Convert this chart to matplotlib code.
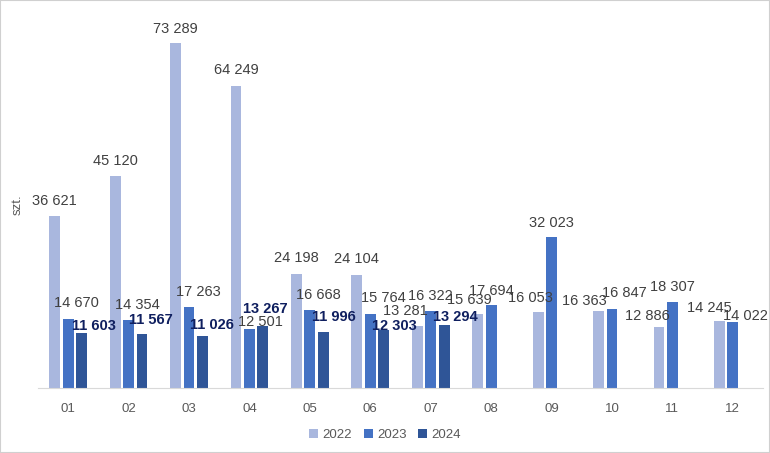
import numpy as np
import matplotlib
matplotlib.use("Agg")
import matplotlib.pyplot as plt
from matplotlib.patches import Rectangle

plt.rcParams["font.family"] = ["Liberation Sans", "DejaVu Sans"]

months = ["01", "02", "03", "04", "05", "06", "07", "08", "09", "10", "11", "12"]
y2022 = [36621, 45120, 73289, 64249, 24198, 24104, 13281, 15639, 16053, 16363, 12886, 14245]
y2023 = [14670, 14354, 17263, 12501, 16668, 15764, 16322, 17694, 32023, 16847, 18307, 14022]
y2024 = [11603, 11567, 11026, 13267, 11996, 12303, 13294, None, None, None, None, None]

# label nudges in pixels: (dx, height of label centre above bar top)
nudge_2022 = [(0, 15), (0, 15), (0, 14), (0, 16), (0, 16), (0, 16), (-12, 15),
              (-8, 14), (-8, 14), (-14, 10), (-12, 11), (-10, 13)]
nudge_2023 = [(8, 16), (9, 15), (9, 15), (11, 7), (8, 15), (13, 16), (0, 15),
              (0, 14), (0, 14), (12, 16), (0, 15), (13, 6)]
nudge_2024 = [(12, 7), (9, 14), (9, 11), (2, 17), (11, 15), (11, 4), (11, 8)]

c2022, c2023, c2024 = "#a9b7de", "#4472c4", "#2f5597"


def fmt(v):
    return f"{v:,}".replace(",", " ")


fig = plt.figure(figsize=(7.7, 4.53), dpi=100)
ax = fig.add_axes([38 / 770, 65 / 453, 725 / 770, 368 / 453])

x = np.arange(len(months))
off, w = 0.222, 0.18

b22 = ax.bar(x - off, y2022, w, color=c2022, label="2022")
b23 = ax.bar(x, y2023, w, color=c2023, label="2023")
v24 = [np.nan if v is None else v for v in y2024]
b24 = ax.bar(x + off, v24, w, color=c2024, label="2024")


def put_labels(xs, vals, nudges, **kw):
    for xi, v, (dx, dy) in zip(xs, vals, nudges):
        if v is None:
            continue
        ax.annotate(fmt(v), (xi, v), xytext=(dx, dy), textcoords="offset pixels",
                    ha="center", va="center", fontsize=10.5, **kw)


put_labels(x - off, y2022, nudge_2022, color="#404040")
put_labels(x, y2023, nudge_2023, color="#404040")
put_labels(x + off, y2024, nudge_2024, color="#0f1f5f", fontweight="bold")

ax.set_xlim(-0.5, len(months) - 0.5)
ax.set_ylim(0, 78200)
ax.set_xticks(x)
ax.set_xticklabels(months, color="#595959", fontsize=9.5)
ax.tick_params(axis="x", length=0, pad=11)
ax.set_yticks([])
for s in ["top", "right", "left"]:
    ax.spines[s].set_visible(False)
ax.spines["bottom"].set_color("#d9d9d9")

fig.text(18 / 770, 1 - 205 / 453, "szt.", rotation=90, ha="center", va="center",
         color="#595959", fontsize=9.5)

fig.legend(handles=[b22, b23, b24], loc="center", bbox_to_anchor=(385 / 770, 1 - 435 / 453),
           ncol=3, frameon=False, fontsize=9.5, handlelength=0.7, handleheight=0.7,
           handletextpad=0.3, columnspacing=0.9, labelcolor="#595959")

fig.patches.append(Rectangle((0, 0), 1, 1, transform=fig.transFigure, fill=False,
                             edgecolor="#d0d0d0", lw=1.5))

fig.savefig("out.png", dpi=100)
